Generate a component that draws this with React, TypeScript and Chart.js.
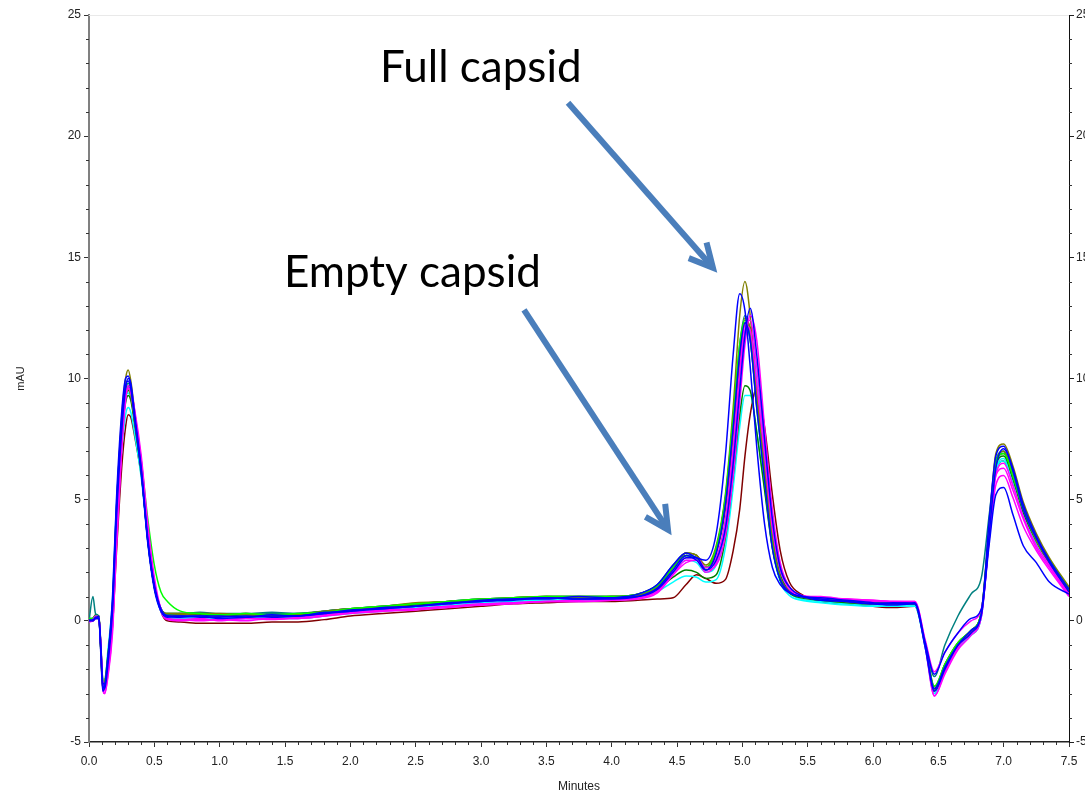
import React, { useEffect, useRef } from 'react';
import { Chart, registerables } from 'chart.js';

Chart.register(...registerables);

// Retention times (minutes) shared by all traces
const times = [
  0.00, 0.03, 0.05, 0.075, 0.09, 0.105, 0.12, 0.145, 0.18, 0.21, 0.25, 0.28, 0.30, 0.32, 0.35, 0.40, 0.45, 0.50, 0.55, 0.60, 0.70, 0.85,
  1.00, 1.20, 1.40, 1.60, 1.80, 2.00, 2.25, 2.50, 2.75, 3.00, 3.25, 3.50, 3.75, 4.00, 4.20, 4.35,
  4.47, 4.57, 4.65, 4.72, 4.80, 4.87, 4.93, 4.98, 5.02, 5.06, 5.11, 5.17, 5.23, 5.29, 5.36, 5.45,
  5.60, 5.80, 6.00, 6.15, 6.32, 6.40, 6.47, 6.55, 6.65, 6.75, 6.83, 6.89, 6.94, 7.00, 7.07, 7.15, 7.25, 7.35, 7.50,
];

// Absorbance traces (mAU)
const blueEarly = [
  0.0, 0.0, 0.1, 0.1, -1.3, -2.9, -2.7, -1.5, 1.0, 5.0, 8.6, 10.0, 10.1, 9.7, 8.3, 6.1, 3.2, 1.3, 0.4, 0.15, 0.2, 0.15,
  0.15, 0.2, 0.15, 0.2, 0.3, 0.45, 0.5, 0.6, 0.75, 0.8, 0.9, 0.95, 0.9, 0.95, 1.1, 1.5,
  2.3, 2.8, 2.6, 2.5, 3.6, 6.8, 11.0, 13.5, 12.8, 10.5, 7.2, 4.0, 2.2, 1.5, 1.15, 1.0,
  0.95, 0.85, 0.75, 0.7, 0.75, -0.9, -2.2, -1.3, -0.5, 0.1, 0.5, 4.2, 6.8, 7.2, 6.2, 4.6, 3.4, 2.4, 1.2,
];
const blueLate = [
  0.0, 0.05, 0.1, 0.2, -1.0, -2.6, -2.8, -1.8, 0.4, 4.2, 7.8, 9.6, 10.0, 9.8, 8.5, 6.3, 3.4, 1.5, 0.5, 0.2, 0.15, 0.2,
  0.1, 0.15, 0.2, 0.2, 0.35, 0.4, 0.55, 0.6, 0.7, 0.85, 0.9, 0.9, 1.0, 0.95, 1.0, 1.3,
  2.0, 2.6, 2.6, 2.1, 2.5, 3.8, 6.5, 9.5, 11.8, 12.9, 11.0, 7.5, 4.2, 2.2, 1.4, 1.05,
  0.9, 0.8, 0.7, 0.75, 0.7, -1.1, -2.9, -2.0, -1.0, -0.4, 0.3, 3.6, 6.3, 7.1, 6.3, 4.8, 3.5, 2.5, 1.3,
];
const blueLow = [
  0.05, 0.0, 0.15, 0.1, -1.1, -2.6, -2.6, -1.5, 0.7, 4.6, 8.2, 9.7, 9.9, 9.6, 8.3, 6.2, 3.3, 1.4, 0.45, 0.2, 0.2, 0.2,
  0.2, 0.15, 0.25, 0.2, 0.3, 0.4, 0.5, 0.6, 0.7, 0.8, 0.85, 0.95, 0.9, 0.9, 1.0, 1.35,
  2.1, 2.7, 2.5, 2.1, 2.8, 4.8, 8.0, 11.0, 12.3, 11.6, 8.8, 5.8, 3.0, 1.7, 1.2, 1.0,
  0.85, 0.8, 0.7, 0.65, 0.7, -1.0, -2.8, -1.9, -1.0, -0.5, 0.3, 3.2, 5.2, 5.5, 4.4, 3.1, 2.4, 1.6, 1.1,
];
const magentaMain = [
  -0.05, 0.0, 0.1, 0.1, -1.0, -2.7, -3.0, -2.2, -0.3, 3.2, 7.2, 9.2, 9.7, 9.6, 8.6, 6.6, 3.8, 1.6, 0.4, 0.05, 0.0, 0.05,
  0.05, 0.1, 0.05, 0.15, 0.25, 0.35, 0.45, 0.5, 0.6, 0.7, 0.75, 0.8, 0.85, 0.9, 0.95, 1.2,
  1.9, 2.5, 2.5, 2.0, 2.4, 3.8, 6.8, 10.0, 12.0, 12.4, 10.5, 7.2, 4.0, 2.2, 1.4, 1.05,
  0.95, 0.9, 0.8, 0.8, 0.75, -1.1, -3.1, -2.1, -1.1, -0.5, 0.2, 3.5, 6.0, 6.3, 5.4, 4.2, 3.0, 2.2, 1.05,
];
const magentaHigh = [
  0.0, 0.05, 0.2, 0.15, -0.9, -2.5, -2.9, -2.0, 0.0, 3.5, 7.5, 9.3, 9.6, 9.4, 8.4, 6.4, 3.6, 1.6, 0.5, 0.1, 0.05, 0.1,
  0.0, 0.1, 0.1, 0.1, 0.2, 0.35, 0.4, 0.5, 0.6, 0.65, 0.75, 0.8, 0.8, 0.85, 0.95, 1.25,
  2.0, 2.6, 2.6, 2.2, 2.6, 4.2, 7.2, 10.3, 12.2, 12.0, 9.8, 6.8, 3.8, 2.1, 1.3, 1.05,
  1.0, 0.9, 0.85, 0.8, 0.8, -0.8, -2.1, -1.3, -0.5, 0.0, 0.5, 3.4, 5.6, 6.0, 5.1, 3.9, 2.9, 2.1, 1.0,
];
const magentaLate = [
  0.0, 0.0, 0.1, 0.15, -1.0, -2.7, -3.0, -2.3, -0.5, 3.0, 7.0, 9.1, 9.6, 9.5, 8.7, 6.8, 4.0, 1.8, 0.5, 0.1, 0.05, 0.0,
  0.05, 0.0, 0.1, 0.1, 0.2, 0.3, 0.4, 0.45, 0.55, 0.65, 0.7, 0.8, 0.8, 0.85, 0.9, 1.15,
  1.9, 2.4, 2.5, 2.1, 2.3, 3.5, 6.0, 9.0, 11.4, 12.6, 11.6, 8.0, 4.6, 2.4, 1.4, 1.05,
  0.95, 0.9, 0.85, 0.8, 0.8, -0.9, -3.1, -2.2, -1.2, -0.6, 0.2, 3.4, 6.0, 6.5, 5.6, 4.3, 3.1, 2.3, 1.1,
];
const lime = [
  0.1, 0.1, 0.2, 0.2, -0.9, -2.4, -2.5, -1.4, 0.6, 4.4, 7.9, 9.3, 9.6, 9.4, 8.4, 6.6, 4.2, 2.3, 1.2, 0.8, 0.4, 0.3,
  0.25, 0.3, 0.25, 0.3, 0.35, 0.5, 0.6, 0.7, 0.8, 0.9, 0.95, 1.0, 1.0, 1.0, 1.1, 1.45,
  2.2, 2.7, 2.6, 2.2, 3.0, 5.1, 8.4, 11.4, 12.4, 11.6, 8.8, 5.8, 3.1, 1.7, 1.2, 1.0,
  0.9, 0.8, 0.75, 0.7, 0.7, -1.0, -2.7, -1.8, -0.9, -0.4, 0.4, 3.9, 6.6, 6.9, 6.0, 4.6, 3.4, 2.5, 1.3,
];
const oliveTall = [
  0.0, 0.1, 0.15, 0.2, -1.1, -2.6, -2.5, -1.4, 0.7, 4.6, 8.4, 10.0, 10.35, 9.9, 8.6, 6.4, 3.5, 1.5, 0.5, 0.3, 0.3, 0.3,
  0.3, 0.25, 0.2, 0.25, 0.4, 0.5, 0.6, 0.75, 0.8, 0.9, 0.95, 1.0, 1.0, 1.0, 1.1, 1.45,
  2.2, 2.8, 2.7, 2.3, 3.1, 5.2, 8.8, 12.6, 14.0, 12.6, 9.2, 6.0, 3.2, 1.7, 1.2, 1.0,
  0.9, 0.8, 0.75, 0.7, 0.7, -1.0, -2.7, -1.8, -0.9, -0.4, 0.4, 4.0, 6.9, 7.3, 6.4, 4.9, 3.6, 2.6, 1.4,
];
const oliveMain = [
  0.0, 0.05, 0.2, 0.15, -1.2, -2.8, -2.7, -1.7, 0.4, 4.2, 7.8, 9.3, 9.6, 9.3, 8.2, 6.2, 3.4, 1.4, 0.5, 0.2, 0.25, 0.3,
  0.2, 0.3, 0.2, 0.2, 0.35, 0.45, 0.55, 0.7, 0.8, 0.85, 0.95, 1.0, 0.95, 1.0, 1.05, 1.4,
  2.2, 2.8, 2.7, 2.2, 2.9, 4.8, 7.9, 11.0, 12.5, 12.0, 9.3, 6.3, 3.4, 1.8, 1.25, 1.0,
  0.9, 0.8, 0.7, 0.7, 0.7, -1.0, -2.9, -1.9, -1.0, -0.45, 0.35, 3.7, 6.5, 7.0, 6.0, 4.6, 3.3, 2.4, 1.2,
];
const maroon = [
  0.0, 0.0, 0.1, 0.1, -1.0, -2.5, -2.6, -1.8, -0.2, 2.8, 6.3, 8.0, 8.5, 8.4, 7.6, 6.0, 3.6, 1.6, 0.4, 0.0, -0.05, -0.1,
  -0.1, -0.1, -0.05, -0.05, 0.05, 0.2, 0.3, 0.4, 0.5, 0.6, 0.7, 0.75, 0.8, 0.8, 0.85, 0.9,
  0.95, 1.5, 1.9, 1.75, 1.55, 1.7, 2.9, 4.6, 6.8, 8.5, 9.6, 8.0, 5.2, 2.9, 1.6, 1.1,
  0.8, 0.7, 0.6, 0.55, 0.6, -1.0, -2.8, -1.9, -1.0, -0.5, 0.3, 3.6, 6.2, 6.6, 5.7, 4.4, 3.2, 2.3, 1.1,
];
const cyanLow = [
  0.0, 0.05, 0.15, 0.15, -1.0, -2.4, -2.4, -1.4, 0.3, 3.8, 7.0, 8.5, 8.8, 8.6, 7.7, 5.9, 3.4, 1.4, 0.4, 0.1, 0.1, 0.05,
  0.05, 0.1, 0.1, 0.1, 0.2, 0.3, 0.4, 0.5, 0.6, 0.7, 0.8, 0.85, 0.85, 0.85, 0.95, 1.2,
  1.6, 1.85, 1.8, 1.6, 1.7, 3.0, 5.5, 8.0, 9.3, 9.3, 7.8, 5.5, 3.0, 1.6, 1.05, 0.85,
  0.75, 0.65, 0.6, 0.6, 0.6, -1.1, -3.0, -2.0, -1.1, -0.6, 0.2, 3.6, 6.2, 6.7, 5.7, 4.4, 3.2, 2.3, 1.2,
];
const cyanMain = [
  0.0, 0.05, 0.1, 0.1, -1.0, -2.4, -2.5, -1.2, 0.9, 4.8, 8.0, 9.2, 9.4, 9.2, 8.2, 6.2, 3.3, 1.4, 0.4, 0.15, 0.15, 0.1,
  0.1, 0.15, 0.1, 0.15, 0.25, 0.35, 0.45, 0.55, 0.65, 0.75, 0.8, 0.9, 0.9, 0.9, 1.0, 1.3,
  2.0, 2.5, 2.4, 2.0, 2.3, 3.9, 6.9, 10.0, 11.8, 12.0, 10.0, 7.0, 3.8, 2.0, 1.2, 0.9,
  0.8, 0.7, 0.65, 0.65, 0.65, -1.1, -3.0, -2.1, -1.1, -0.6, 0.2, 3.5, 6.2, 6.6, 5.7, 4.4, 3.2, 2.3, 1.2,
];
const tealOdd = [
  0.0, 1.0, 0.3, 0.15, -1.1, -2.6, -2.6, -1.5, 0.5, 4.3, 7.8, 9.3, 9.7, 9.4, 8.3, 6.2, 3.3, 1.4, 0.5, 0.3, 0.3, 0.35,
  0.3, 0.3, 0.35, 0.3, 0.4, 0.5, 0.6, 0.7, 0.8, 0.9, 0.95, 1.0, 1.0, 1.0, 1.1, 1.45,
  2.2, 2.7, 2.6, 2.2, 3.0, 5.0, 8.1, 11.0, 12.2, 11.6, 8.9, 6.0, 3.2, 1.7, 1.2, 1.0,
  0.9, 0.85, 0.8, 0.75, 0.75, -0.9, -2.3, -1.0, 0.2, 1.1, 1.8, 4.4, 6.6, 7.0, 6.1, 4.7, 3.4, 2.5, 1.3,
];
const tealMain = [
  0.05, 0.05, 0.2, 0.15, -1.2, -2.7, -2.6, -1.6, 0.5, 4.3, 7.9, 9.5, 9.8, 9.5, 8.3, 6.2, 3.3, 1.4, 0.5, 0.25, 0.3, 0.3,
  0.25, 0.25, 0.3, 0.3, 0.4, 0.5, 0.6, 0.7, 0.8, 0.9, 0.95, 1.0, 1.0, 1.0, 1.1, 1.5,
  2.3, 2.8, 2.7, 2.2, 3.0, 5.0, 8.3, 11.4, 12.6, 11.9, 9.1, 6.1, 3.3, 1.8, 1.2, 1.0,
  0.95, 0.85, 0.8, 0.75, 0.75, -1.0, -2.9, -1.9, -1.0, -0.5, 0.3, 3.8, 6.5, 7.0, 6.0, 4.6, 3.4, 2.5, 1.3,
];
const greenLow = [
  0.1, 0.1, 0.25, 0.2, -1.0, -2.6, -2.7, -1.6, 0.4, 4.1, 7.6, 9.0, 9.3, 9.1, 8.1, 6.1, 3.4, 1.4, 0.5, 0.3, 0.3, 0.3,
  0.25, 0.3, 0.25, 0.3, 0.4, 0.5, 0.55, 0.7, 0.75, 0.85, 0.9, 0.95, 0.95, 0.95, 1.0, 1.3,
  1.8, 2.1, 2.0, 1.75, 1.9, 3.4, 6.0, 8.5, 9.7, 9.5, 7.8, 5.4, 3.0, 1.7, 1.15, 0.95,
  0.85, 0.75, 0.7, 0.7, 0.7, -1.0, -2.8, -1.8, -0.9, -0.4, 0.4, 3.8, 6.5, 6.9, 5.9, 4.5, 3.3, 2.4, 1.2,
];
const greenMain = [
  0.0, 0.1, 0.2, 0.2, -1.1, -2.8, -2.8, -1.7, 0.3, 4.0, 7.6, 9.2, 9.5, 9.3, 8.2, 6.2, 3.4, 1.5, 0.5, 0.25, 0.25, 0.25,
  0.2, 0.25, 0.2, 0.25, 0.35, 0.45, 0.55, 0.65, 0.75, 0.85, 0.9, 0.95, 0.95, 1.0, 1.05, 1.4,
  2.2, 2.7, 2.6, 2.2, 2.8, 4.6, 7.7, 10.8, 12.3, 12.1, 9.5, 6.4, 3.5, 1.9, 1.25, 1.0,
  0.9, 0.8, 0.75, 0.7, 0.7, -1.0, -2.9, -1.9, -1.0, -0.45, 0.35, 3.7, 6.4, 6.8, 5.9, 4.5, 3.3, 2.4, 1.2,
];

const traces = [
  blueEarly, blueLate, blueLow, magentaMain, magentaHigh, magentaLate, lime, oliveTall,
  oliveMain, tealOdd, tealMain, greenLow, greenMain, cyanMain, cyanLow, maroon,
];
const traceColors = [
  '#0000FF', '#0000FF', '#0000FF', '#FF00FF', '#FF00FF', '#FF00FF', '#00FF00', '#808000',
  '#808000', '#008080', '#008080', '#008000', '#008000', '#00FFFF', '#00FFFF', '#800000',
];

// Axis ticks
const xTickValues = [0, 0.5, 1, 1.5, 2, 2.5, 3, 3.5, 4, 4.5, 5, 5.5, 6, 6.5, 7, 7.5];
const yTickValues = [-5, 0, 5, 10, 15, 20, 25];

// Annotations (in data units)
const annotationTexts = ['Full capsid', 'Empty capsid'];
const annotationTextAt = [[2.227, 22.24], [1.492, 13.78]];
const arrowFrom = [[3.666, 21.38], [3.329, 12.83]];
const arrowTo = [[4.775, 14.57], [4.431, 3.76]];

const TICK_FONT = { family: '"Liberation Sans", Arial, sans-serif', size: 12 };

const decorPlugin = {
  id: 'decor',
  afterDraw(chart: any) {
    const { ctx, chartArea: ca, scales } = chart;
    const xs = scales.x;
    const ys = scales.y;
    ctx.save();
    // faint top border
    ctx.strokeStyle = '#e9e9e9';
    ctx.lineWidth = 1;
    ctx.beginPath();
    ctx.moveTo(ca.left, Math.round(ca.top) + 0.5);
    ctx.lineTo(ca.right, Math.round(ca.top) + 0.5);
    ctx.stroke();
    // minor ticks
    ctx.strokeStyle = '#333';
    ctx.lineWidth = 1;
    ctx.beginPath();
    for (let i = 0; i <= 75; i++) {
      if (i % 5 === 0) continue;
      const px = Math.round(xs.getPixelForValue(i / 10)) + 0.5;
      ctx.moveTo(px, ca.bottom);
      ctx.lineTo(px, ca.bottom + 3);
    }
    for (let v = -5; v <= 25; v++) {
      if (v % 5 === 0) continue;
      const py = Math.round(ys.getPixelForValue(v)) + 0.5;
      ctx.moveTo(ca.left - 3, py);
      ctx.lineTo(ca.left, py);
      ctx.moveTo(ca.right, py);
      ctx.lineTo(ca.right + 3, py);
    }
    ctx.stroke();

    // annotation texts
    ctx.fillStyle = '#000';
    ctx.font = '44px Lato, "Open Sans", sans-serif';
    ctx.textBaseline = 'alphabetic';
    ctx.textAlign = 'left';
    annotationTexts.forEach((t, i) => {
      const [tx, ty] = annotationTextAt[i];
      ctx.fillText(t, xs.getPixelForValue(tx), ys.getPixelForValue(ty));
    });

    // arrows
    ctx.strokeStyle = '#4A7EBB';
    ctx.lineWidth = 6;
    ctx.lineCap = 'butt';
    ctx.lineJoin = 'miter';
    arrowFrom.forEach((f, i) => {
      const x0 = xs.getPixelForValue(f[0]);
      const y0 = ys.getPixelForValue(f[1]);
      const x1 = xs.getPixelForValue(arrowTo[i][0]);
      const y1 = ys.getPixelForValue(arrowTo[i][1]);
      const ang = Math.atan2(y1 - y0, x1 - x0);
      const back = ang + Math.PI;
      const headLen = 26;
      const spread = (27 * Math.PI) / 180;
      ctx.beginPath();
      ctx.moveTo(x0, y0);
      ctx.lineTo(x1 - 3 * Math.cos(ang), y1 - 3 * Math.sin(ang));
      ctx.stroke();
      ctx.beginPath();
      ctx.moveTo(x1 + headLen * Math.cos(back - spread), y1 + headLen * Math.sin(back - spread));
      ctx.lineTo(x1, y1);
      ctx.lineTo(x1 + headLen * Math.cos(back + spread), y1 + headLen * Math.sin(back + spread));
      ctx.stroke();
    });
    ctx.restore();
  },
};

export default function App() {
  const ref = useRef<HTMLCanvasElement | null>(null);
  useEffect(() => {
    if (!ref.current) return;
    const datasets = traces.map((vals, i) => ({
      label: 'run ' + (i + 1),
      data: vals.map((v, k) => ({ x: times[k], y: v })),
      borderColor: traceColors[i],
      backgroundColor: traceColors[i],
      borderWidth: 1.5,
      pointRadius: 0,
      fill: false,
      cubicInterpolationMode: 'monotone' as const,
    }));
    const chart = new Chart(ref.current, {
      type: 'line',
      data: { datasets },
      plugins: [decorPlugin],
      options: {
        animation: false,
        responsive: false,
        devicePixelRatio: 1,
        layout: { padding: { top: 15, left: 0, right: 0, bottom: 0 } },
        plugins: { legend: { display: false }, tooltip: { enabled: false } },
        scales: {
          x: {
            type: 'linear',
            min: 0,
            max: 7.5,
            afterBuildTicks: (s: any) => { s.ticks = xTickValues.map((v) => ({ value: v })); },
            afterFit: (s: any) => { s.height = 52; },
            ticks: {
              color: '#222',
              font: TICK_FONT,
              padding: 7,
              maxRotation: 0,
              autoSkip: false,
              callback: (v: any) => Number(v).toFixed(1),
            },
            grid: { display: true, drawOnChartArea: false, drawTicks: true, tickLength: 5, tickColor: '#333' },
            border: { display: true, color: '#222', width: 1.5 },
            title: { display: true, text: 'Minutes', color: '#222', font: TICK_FONT, padding: { top: 0, bottom: 0 } },
          },
          y: {
            type: 'linear',
            position: 'left',
            min: -5,
            max: 25,
            afterBuildTicks: (s: any) => { s.ticks = yTickValues.map((v) => ({ value: v })); },
            afterFit: (s: any) => { s.width = 89; },
            ticks: { color: '#222', font: TICK_FONT, padding: 3, autoSkip: false, callback: (v: any) => String(v) },
            grid: { display: true, drawOnChartArea: false, drawTicks: true, tickLength: 5, tickColor: '#333' },
            border: { display: true, color: '#808080', width: 2 },
            title: { display: true, text: 'mAU', color: '#222', font: { family: TICK_FONT.family, size: 11 }, padding: { top: 14, bottom: 0 } },
          },
          y2: {
            type: 'linear',
            position: 'right',
            min: -5,
            max: 25,
            afterBuildTicks: (s: any) => { s.ticks = yTickValues.map((v) => ({ value: v })); },
            afterFit: (s: any) => { s.width = 16; },
            ticks: { color: '#222', font: TICK_FONT, padding: 2, autoSkip: false, callback: (v: any) => String(v) },
            grid: { display: true, drawOnChartArea: false, drawTicks: true, tickLength: 5, tickColor: '#222' },
            border: { display: true, color: '#111', width: 1 },
          },
        },
      },
    });
    return () => chart.destroy();
  }, []);
  return (
    <div style={{ position: 'absolute', left: 0, top: 0, width: 1085, height: 794, overflow: 'hidden', background: '#fff' }}>
      <canvas ref={ref} width={1085} height={794} style={{ width: 1085, height: 794, display: 'block' }} />
    </div>
  );
}
